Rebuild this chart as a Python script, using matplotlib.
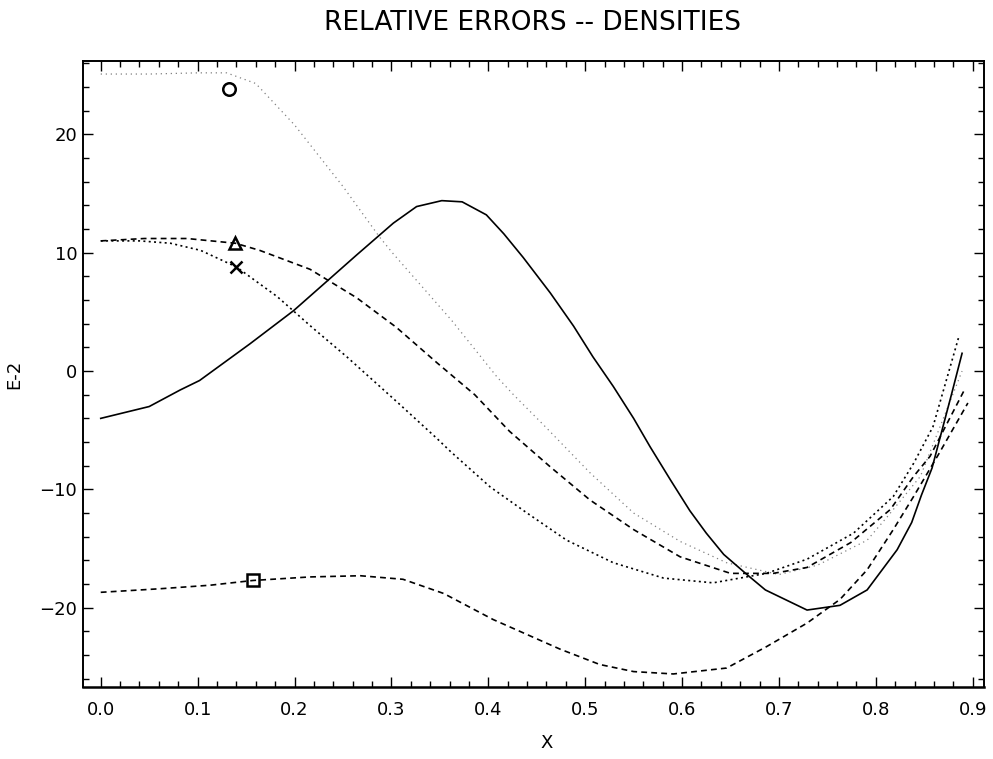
import numpy as np
import matplotlib
matplotlib.use("Agg")
import matplotlib.pyplot as plt
from matplotlib.ticker import MultipleLocator

# curve, solid line (no symbol)
solid_x = [0.0, 0.05, 0.082, 0.102, 0.154, 0.199, 0.235, 0.264, 0.302, 0.326,
           0.352, 0.373, 0.398, 0.416, 0.436, 0.464, 0.488, 0.508, 0.529, 0.55,
           0.567, 0.588, 0.608, 0.625, 0.643, 0.667, 0.686, 0.729, 0.763, 0.791,
           0.822, 0.837, 0.847, 0.858, 0.878, 0.889]
solid_y = [-4.0, -3.0, -1.6, -0.8, 2.3, 5.1, 7.7, 9.8, 12.5, 13.9,
           14.4, 14.3, 13.2, 11.6, 9.6, 6.6, 3.8, 1.2, -1.3, -4.0,
           -6.4, -9.2, -11.8, -13.7, -15.5, -17.2, -18.5, -20.2, -19.8, -18.5,
           -15.1, -12.8, -10.5, -8.2, -2.0, 1.5]

# "O" curve (faint dotted)
circ_x = [0.0, 0.05, 0.10, 0.13, 0.16, 0.20, 0.25, 0.288, 0.302, 0.362, 0.409,
          0.426, 0.46, 0.505, 0.55, 0.598, 0.646, 0.70, 0.74, 0.791, 0.812,
          0.846, 0.889]
circ_y = [25.1, 25.1, 25.2, 25.2, 24.3, 20.8, 15.6, 11.3, 9.9, 4.3, -0.5,
          -2.0, -4.8, -8.6, -12.0, -14.4, -16.2, -17.2, -16.4, -14.3, -12.3,
          -8.9, 0.0]

# triangle curve (dashed)
tri_x = [0.0, 0.045, 0.089, 0.139, 0.164, 0.216, 0.264, 0.305, 0.347, 0.386,
         0.422, 0.464, 0.505, 0.55, 0.598, 0.65, 0.694, 0.729, 0.774, 0.815,
         0.839, 0.856, 0.892]
tri_y = [11.0, 11.2, 11.2, 10.8, 10.2, 8.6, 6.2, 3.7, 0.7, -2.0,
         -5.1, -8.1, -10.9, -13.4, -15.7, -17.1, -17.1, -16.6, -14.5, -11.7,
         -8.9, -7.2, -1.5]

# "X" curve (dotted)
cross_x = [0.0, 0.04, 0.072, 0.103, 0.140, 0.182, 0.218, 0.254, 0.288, 0.307,
           0.347, 0.361, 0.402, 0.44, 0.481, 0.529, 0.581, 0.632, 0.687, 0.729,
           0.777, 0.818, 0.839, 0.859, 0.886]
cross_y = [11.0, 11.0, 10.8, 10.2, 8.8, 6.3, 3.7, 1.2, -1.3, -2.7,
           -5.7, -6.8, -9.8, -12.0, -14.3, -16.2, -17.5, -17.9, -17.1, -15.9,
           -13.7, -10.6, -7.8, -4.7, 3.0]

# square curve (dashed)
sq_x = [0.0, 0.061, 0.113, 0.157, 0.216, 0.268, 0.312, 0.354, 0.405, 0.474,
        0.515, 0.55, 0.591, 0.646, 0.687, 0.729, 0.763, 0.791, 0.818, 0.839,
        0.865, 0.895]
sq_y = [-18.7, -18.4, -18.1, -17.7, -17.4, -17.3, -17.6, -18.8, -21.0, -23.5,
        -24.8, -25.4, -25.6, -25.1, -23.3, -21.3, -19.3, -16.8, -13.4, -10.6,
        -7.0, -2.7]

# symbol positions
sym_names = ["O", "tri", "X", "sq"]
sym_x = [0.132, 0.139, 0.140, 0.157]
sym_y = [23.8, 10.8, 8.8, -17.7]

xticks = [0.0, 0.1, 0.2, 0.3, 0.4, 0.5, 0.6, 0.7, 0.8, 0.9]
yticks = [-20, -10, 0, 10, 20]

fig = plt.figure(figsize=(9.93, 7.59), dpi=100)
ax = fig.add_axes([0.0833, 0.0949, 0.9077, 0.8247])

ax.plot(circ_x, circ_y, color="#808080", lw=0.9, linestyle=(0, (1, 3)))
ax.plot(solid_x, solid_y, color="k", lw=1.2)
ax.plot(tri_x, tri_y, color="k", lw=1.2, linestyle=(0, (3.5, 2.5)))
ax.plot(cross_x, cross_y, color="k", lw=1.2, linestyle=(0, (1.2, 2)))
ax.plot(sq_x, sq_y, color="k", lw=1.2, linestyle=(0, (3.5, 2.5)))

# symbols that label each curve
mk = {"O": "o", "tri": "^", "X": "x", "sq": "s"}
for name, sx, sy in zip(sym_names, sym_x, sym_y):
    ax.plot([sx], [sy], marker=mk[name], color="k", fillstyle="none",
            markersize=9, markeredgewidth=1.8, linestyle="none")

ax.set_xlim(-0.0186, 0.9117)
ax.set_ylim(-26.7, 26.2)

ax.set_xticks(xticks)
ax.set_xticklabels(["%.1f" % v for v in xticks])
ax.set_yticks(yticks)
ax.xaxis.set_minor_locator(MultipleLocator(0.02))
ax.yaxis.set_minor_locator(MultipleLocator(2))

ax.tick_params(which="both", direction="in", top=True, right=True,
               width=1.0, labelsize=13)
ax.tick_params(which="major", length=7)
ax.tick_params(which="minor", length=4.5)
ax.tick_params(axis="x", pad=10)
ax.tick_params(axis="y", pad=4)

for sp in ax.spines.values():
    sp.set_linewidth(1.4)
ax.spines["bottom"].set_linewidth(1.8)

ax.set_xlabel("X", fontsize=13, va="center")
ax.xaxis.set_label_coords(0.515, -0.09)
ax.set_ylabel("E-2", fontsize=13)
ax.yaxis.set_label_coords(-0.066, 0.5)

fig.text(533 / 993, 1 - 30 / 759, "RELATIVE ERRORS -- DENSITIES",
         fontsize=19, ha="center", va="baseline")

fig.savefig("out.png", dpi=100)
